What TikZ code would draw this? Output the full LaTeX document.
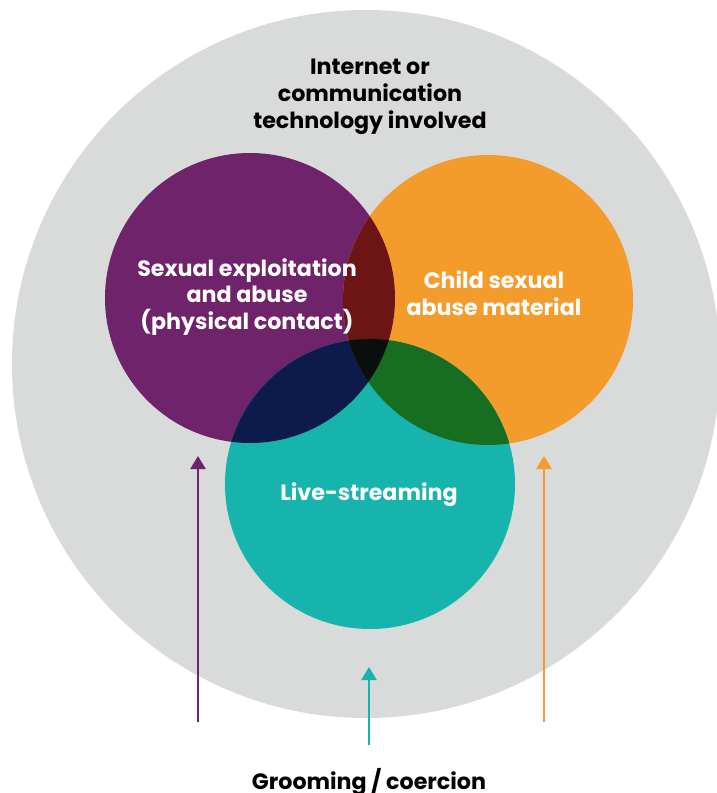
\documentclass[tikz,border=0pt]{standalone}
\usepackage{fontspec}
\setmainfont{Poppins}
\usetikzlibrary{arrows.meta}
\definecolor{ringgray}{HTML}{D9DADA}
\definecolor{sexpurple}{HTML}{6E236B}
\definecolor{csaorange}{HTML}{F39C2C}
\definecolor{liveteal}{HTML}{17B3AD}
\definecolor{povl}{HTML}{6C1514}
\definecolor{ptovl}{HTML}{0D1A4C}
\definecolor{otovl}{HTML}{176E20}
\definecolor{allovl}{HTML}{0A0F0D}
\tikzset{
  lbl/.style={align=center,font=\bfseries\fontsize{22.2}{26.8}\selectfont},
  wlbl/.style={lbl,text=white},
  grarrow/.style={-{Triangle[length=13pt,width=15pt]},line width=2.5pt}
}
\begin{document}
\begin{tikzpicture}[x=1pt,y=-1pt]
\useasboundingbox (0,0) rectangle (716,793);
\coordinate (ict) at (366,364);
\coordinate (sea) at (250,298);
\coordinate (csam) at (488,300);
\coordinate (ls) at (370,484);
\fill[color=ringgray] (ict) circle (354);
\fill[color=sexpurple] (sea) circle (145);
\fill[color=csaorange] (csam) circle (145);
\fill[color=liveteal] (ls) circle (145);
% overlaps
\begin{scope}
\clip (sea) circle (145);
\fill[color=povl] (csam) circle (145);
\fill[color=ptovl] (ls) circle (145);
\clip (csam) circle (145);
\fill[color=allovl] (ls) circle (145);
\end{scope}
\begin{scope}
\clip (csam) circle (145);
\clip (ls) circle (145);
\fill[color=otovl] (csam) circle (145);
\clip (sea) circle (145);
\fill[color=allovl] (ls) circle (145);
\end{scope}
\node[lbl] (ictlbl) at (370,97) {Internet or\\communication\\technology involved};
\node[wlbl] (sealbl) at (247,297) {Sexual exploitation\\and abuse\\(physical contact)};
\node[wlbl] (csamlbl) at (494,293) {Child sexual\\abuse material};
\node[wlbl,anchor=base] (lslbl) at (369,500) {Live-streaming};
\node[lbl,anchor=base] (groom) at (369,789) {Grooming / coercion};
% arrows
\coordinate (pa0) at (198,722);
\coordinate (pa1) at (198,456);
\coordinate (oa0) at (544,722);
\coordinate (oa1) at (544,456);
\coordinate (ta0) at (369,745);
\coordinate (ta1) at (369,667);
\draw[grarrow,color=sexpurple] (pa0) -- (pa1);
\draw[grarrow,color=csaorange] (oa0) -- (oa1);
\draw[grarrow,color=liveteal] (ta0) -- (ta1);
\end{tikzpicture}
\end{document}
